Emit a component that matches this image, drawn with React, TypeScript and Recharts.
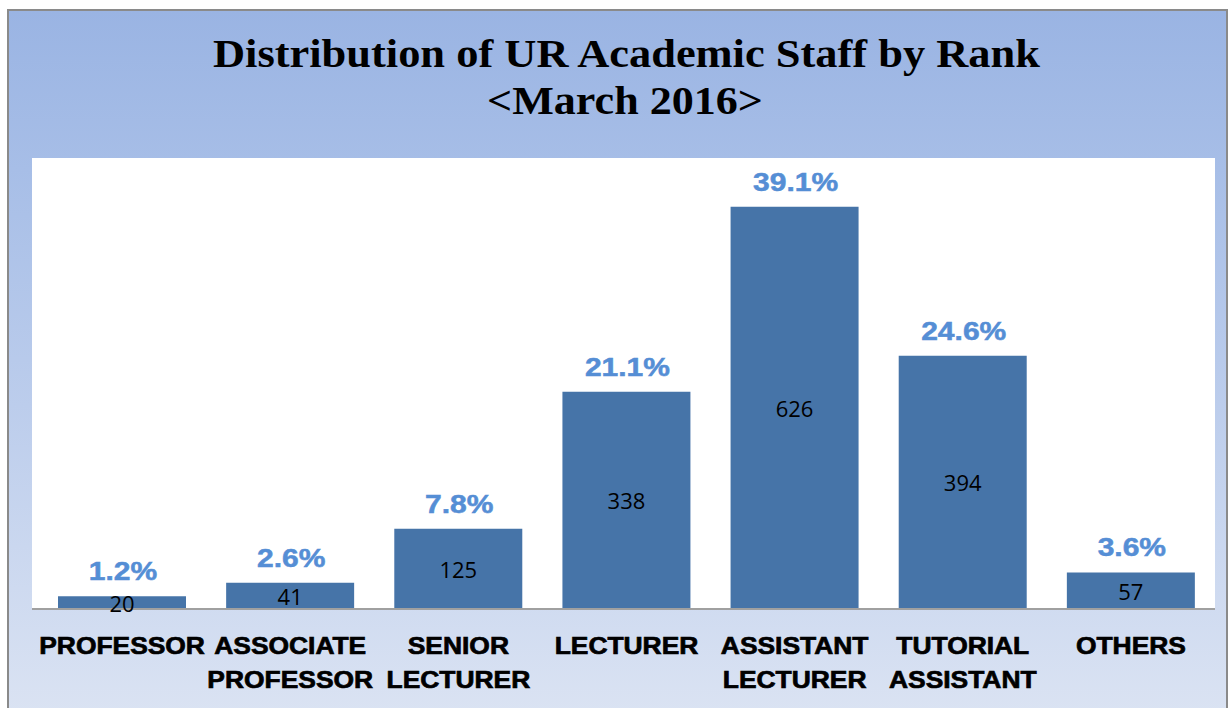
import React from 'react';
import { BarChart, Bar, XAxis, YAxis, LabelList } from 'recharts';

const categories = ['PROFESSOR', 'ASSOCIATE PROFESSOR', 'SENIOR LECTURER', 'LECTURER', 'ASSISTANT LECTURER', 'TUTORIAL ASSISTANT', 'OTHERS'];
const tickLines: string[][] = [
  ['PROFESSOR'],
  ['ASSOCIATE', 'PROFESSOR'],
  ['SENIOR', 'LECTURER'],
  ['LECTURER'],
  ['ASSISTANT', 'LECTURER'],
  ['TUTORIAL', 'ASSISTANT'],
  ['OTHERS'],
];
const staffCounts = [20, 41, 125, 338, 626, 394, 57];
const percentLabels = ['1.2%', '2.6%', '7.8%', '21.1%', '39.1%', '24.6%', '3.6%'];
const yDomainMax = 702;

const data = categories.map((c, i) => ({ name: c, value: staffCounts[i], pct: percentLabels[i], idx: i }));

const CategoryTick = (props: any) => {
  const { x, y, payload } = props;
  const lines = tickLines[payload.index] || [payload.value];
  return (
    <g>
      {lines.map((l, i) => (
        <text
          key={i}
          transform={`translate(${x}, ${y + 45 + i * 34}) scale(1.1, 1)`}
          x={0}
          y={0}
          textAnchor="middle"
          fontFamily="'Liberation Sans', Arial, sans-serif"
          fontWeight="bold"
          fontSize={24}
          fill="#000"
          stroke="#000"
          strokeWidth={0.7}
        >
          {l}
        </text>
      ))}
    </g>
  );
};

const PctLabel = (props: any) => {
  const { x, y, width, index } = props;
  return (
    <text
      transform={`translate(${x + width / 2 + 1}, ${y - 16}) scale(1.2, 1)`}
      x={0}
      y={0}
      textAnchor="middle"
      fontFamily="'Liberation Sans', Arial, sans-serif"
      fontWeight="bold"
      fontSize={25}
      fill="#558ed5"
      stroke="#558ed5"
      strokeWidth={0.5}
    >
      {percentLabels[index]}
    </text>
  );
};

const ValLabel = (props: any) => {
  const { x, y, width, height, index } = props;
  return (
    <text
      x={x + width / 2}
      y={y + height / 2 + 9}
      textAnchor="middle"
      fontFamily="'Open Sans', sans-serif"
      fontSize={22}
      fill="#000"
    >
      {staffCounts[index]}
    </text>
  );
};

export default function App() {
  return (
    <div style={{ position: 'absolute', left: 0, top: 0, width: 1230, height: 708, overflow: 'hidden', background: '#fff' }}>
      <div
        style={{
          position: 'absolute',
          left: 7,
          top: 9,
          width: 1221,
          height: 720,
          boxSizing: 'border-box',
          borderLeft: '2px solid #8a8a8a',
          borderTop: '2px solid #8a8a8a',
          borderRight: '2px solid #8a8a8a',
          background: 'linear-gradient(to bottom, #9ab4e3 0%, #a7bee7 22%, #bccdec 55%, #dce4f3 100%)',
        }}
      />
      <div style={{ position: 'absolute', left: 32, top: 158, width: 1183, height: 451, background: '#ffffff' }} />
      <svg style={{ position: 'absolute', left: 0, top: 0 }} width={1230} height={140}>
        <text
          x={626.5}
          y={67}
          textAnchor="middle"
          fontFamily="'Liberation Serif', 'Times New Roman', serif"
          fontWeight="bold"
          fontSize={41}
          fill="#000"
          textLength={827}
          lengthAdjust="spacingAndGlyphs"
        >
          Distribution of UR Academic Staff by Rank
        </text>
        <text
          x={625}
          y={114}
          textAnchor="middle"
          fontFamily="'Liberation Serif', 'Times New Roman', serif"
          fontWeight="bold"
          fontSize={41}
          fill="#000"
          textLength={276}
          lengthAdjust="spacingAndGlyphs"
        >
          {'<March 2016>'}
        </text>
      </svg>
      <div style={{ position: 'absolute', left: 0, top: 0 }}>
        <BarChart
          width={1230}
          height={708}
          data={data}
          margin={{ top: 158, left: 32, right: 15, bottom: 0 }}
          barSize={128}
        >
          <YAxis hide domain={[0, yDomainMax]} width={0} />
          <XAxis
            dataKey="name"
            height={99}
            interval={0}
            tickLine={false}
            tickSize={0}
            tickMargin={0}
            padding={{ left: 6, right: 0 }}
            axisLine={{ stroke: '#a0a0a0', strokeWidth: 2 }}
            tick={<CategoryTick />}
          />
          <Bar dataKey="value" fill="#4674a8" isAnimationActive={false}>
            <LabelList dataKey="pct" content={<PctLabel />} />
            <LabelList dataKey="value" content={<ValLabel />} />
          </Bar>
        </BarChart>
      </div>
    </div>
  );
}
